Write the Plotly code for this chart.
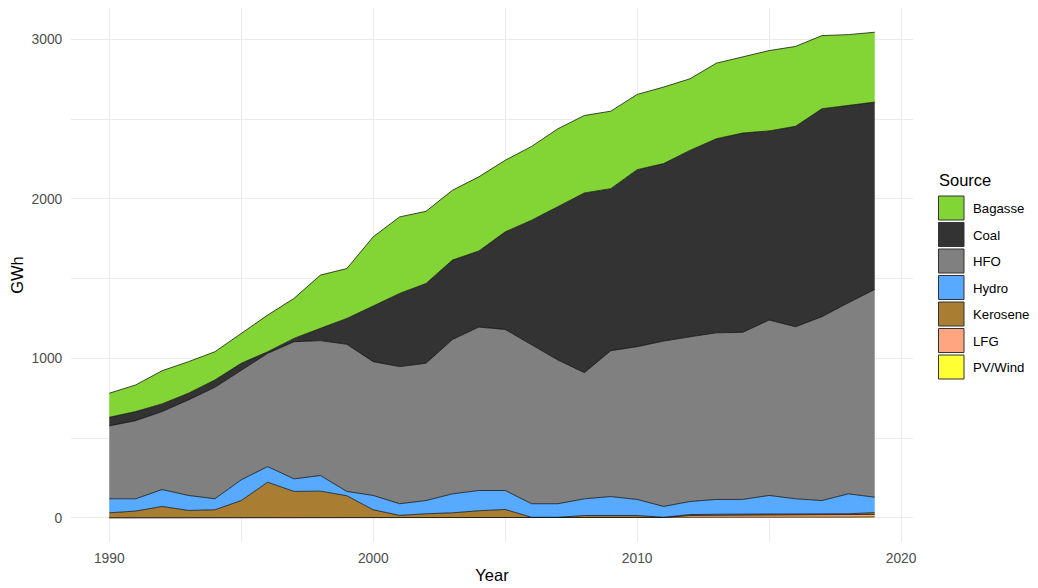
import plotly.graph_objects as go

years = list(range(1990, 2020))

# GWh per source
pv_wind = [0] * 24 + [1, 2, 3, 3, 4, 5]
lfg = [0] * 21 + [2, 14, 15, 15, 15, 15, 15, 16, 16]
kerosene = [31, 42, 71, 46, 50, 108, 223, 165, 167, 138,
            50, 15, 25, 31, 44, 52, 3, 3, 14, 14,
            14, 1, 6, 7, 6, 5, 4, 4, 5, 11]
hydro = [88, 77, 106, 94, 69, 130, 98, 79, 98, 27,
         90, 73, 83, 119, 127, 119, 85, 85, 105, 119,
         101, 68, 82, 93, 93, 118, 97, 86, 125, 97]
hfo = [457, 490, 489, 599, 699, 689, 710, 860, 846, 923,
       839, 860, 861, 968, 1025, 1010, 995, 901, 791, 915,
       958, 1037, 1033, 1045, 1048, 1100, 1079, 1153, 1198, 1303]
coal = [54, 57, 48, 42, 46, 42, 10, 21, 77, 162,
        349, 459, 500, 498, 477, 612, 783, 961, 1127, 1016,
        1110, 1113, 1169, 1217, 1250, 1186, 1257, 1304, 1238, 1175]
bagasse = [151, 167, 208, 198, 177, 186, 230, 251, 334, 313,
           434, 480, 453, 438, 465, 449, 463, 490, 486, 486,
           472, 480, 449, 474, 476, 504, 501, 459, 444, 438]

sources = ["Bagasse", "Coal", "HFO", "Hydro", "Kerosene", "LFG", "PV/Wind"]
values = [bagasse, coal, hfo, hydro, kerosene, lfg, pv_wind]
colors = ["#83D435", "#333333", "#808080", "#57AAFF", "#A97E32", "#FFA681", "#FFFF33"]

FONT = "Liberation Sans, Arial, sans-serif"

fig = go.Figure()

# ggplot stacks the first level on top, so add traces bottom-up
for name, vals, col in reversed(list(zip(sources, values, colors))):
    fig.add_trace(go.Scatter(
        x=years, y=vals, name=name, stackgroup="one", mode="lines",
        line=dict(color="black", width=0.7),
        fillcolor=col, showlegend=False,
        hovertemplate="<b>" + name + "</b><br>Year: %{x}<br>GWh: %{y}<extra></extra>"
    ))

# page has an 8px body margin, so the figure is a bit smaller than the window
W, H = 1030, 580
L, R, T, B = 63, 125, 0, 46
# plot area in window pixels, used to place the hand-made legend
PX0, PX1, PY0, PY1 = 71, 913, 8, 542


def px_x(px):
    return (px - PX0) / (PX1 - PX0)


def px_y(py):
    return (PY1 - py) / (PY1 - PY0)


shapes = []
annotations = [dict(x=px_x(937), y=px_y(180), xref="paper", yref="paper",
                    text="Source", showarrow=False, xanchor="left", yanchor="middle",
                    font=dict(family=FONT, size=16.5, color="black"))]
for i, (name, col) in enumerate(zip(sources, colors)):
    top = 196 + i * 26.5
    shapes.append(dict(type="rect", xref="paper", yref="paper",
                       x0=px_x(938.5), x1=px_x(964), y0=px_y(top + 24), y1=px_y(top),
                       fillcolor=col, line=dict(color="#333333", width=1)))
    annotations.append(dict(x=px_x(971), y=px_y(top + 12.5), xref="paper", yref="paper",
                            text=name, showarrow=False, xanchor="left", yanchor="middle",
                            font=dict(family=FONT, size=13.2, color="black")))

fig.update_layout(
    width=W, height=H,
    margin=dict(l=L, r=R, t=T, b=B),
    paper_bgcolor="white", plot_bgcolor="white",
    font=dict(family=FONT, color="black"),
    shapes=shapes, annotations=annotations,
    showlegend=False,
)

fig.update_xaxes(
    range=[1988.55, 2020.45], tickvals=[1990, 2000, 2010, 2020],
    showgrid=True, gridcolor="#EBEBEB", gridwidth=1, zeroline=False, showline=False,
    minor=dict(tickvals=[1995, 2005, 2015], showgrid=True, gridcolor="#EBEBEB", gridwidth=0.6),
    ticks="outside", ticklen=3, tickcolor="rgba(0,0,0,0)",
    tickfont=dict(family=FONT, size=13.8, color="#4D4D4D"),
    title=dict(text="Year", font=dict(family=FONT, size=16.5, color="black"), standoff=4),
)
fig.update_yaxes(
    range=[-152, 3197], tickvals=[0, 1000, 2000, 3000],
    showgrid=True, gridcolor="#EBEBEB", gridwidth=1, zeroline=False, showline=False,
    minor=dict(tickvals=[500, 1500, 2500], showgrid=True, gridcolor="#EBEBEB", gridwidth=0.6),
    ticks="outside", ticklen=5, tickcolor="rgba(0,0,0,0)",
    tickfont=dict(family=FONT, size=13.8, color="#4D4D4D"),
    title=dict(text="GWh", font=dict(family=FONT, size=16.5, color="black"), standoff=6),
)

fig.write_html("out.html")
